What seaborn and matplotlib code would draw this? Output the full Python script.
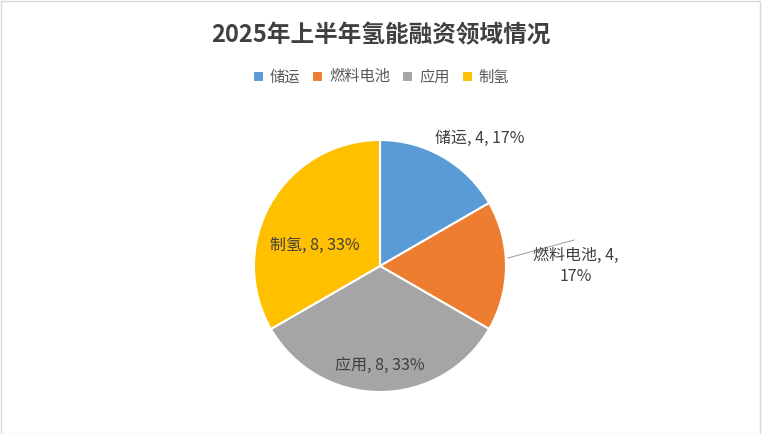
import matplotlib.pyplot as plt
import seaborn as sns
from matplotlib.patches import Rectangle

sns.set_theme(style="white")
plt.rcParams['font.family'] = 'Noto Sans CJK SC'

# data
categories = ['储运', '燃料电池', '应用', '制氢']
values = [4, 4, 8, 8]
colors = ['#5b9bd5', '#ed7d31', '#a5a5a5', '#ffc000']

W, H = 762, 434
fig = plt.figure(figsize=(W / 100, H / 100), dpi=100)
fig.patches.append(Rectangle((0.001, 0.001), 0.997, 0.997, transform=fig.transFigure,
                             fill=False, edgecolor='#d9d9d9', lw=1))

cx, cy, r = 380, 266, 126
ax = fig.add_axes([(cx - r) / W, (H - cy - r) / H, 2 * r / W, 2 * r / H])
wedges, _ = ax.pie(values, colors=colors, startangle=90, counterclock=False,
                   wedgeprops=dict(edgecolor='white', linewidth=1.5))
ax.set_aspect('equal')
ax.set_xlim(-1, 1)
ax.set_ylim(-1, 1)

total = sum(values)
labels = [f'{c}, {v}, {round(v / total * 100)}%' for c, v in zip(categories, values)]
fs = 11.5
# label positions in pixel coords
fig.text(480 / W, 1 - 138 / H, labels[0], ha='center', va='center', fontsize=fs, color='#404040')
fig.text(576 / W, 1 - 266 / H, '燃料电池, 4,\n17%', ha='center', va='center', fontsize=fs,
         color='#404040', linespacing=1.35)
fig.add_artist(plt.Line2D([508 / W, 574 / W], [1 - 258 / H, 1 - 240 / H], color='#a6a6a6', lw=0.8))
fig.text(380 / W, 1 - 365 / H, labels[2], ha='center', va='center', fontsize=fs, color='#404040')
fig.text(315 / W, 1 - 245 / H, labels[3], ha='center', va='center', fontsize=fs, color='#404040')

fig.text(0.5, 1 - 35 / H, '2025年上半年氢能融资领域情况', ha='center', va='center',
         fontsize=17, fontweight='bold', color='#404040')
fig.legend(wedges, categories, loc='center', bbox_to_anchor=(0.5, 1 - 77 / H), ncol=4,
           frameon=False, fontsize=11, handlelength=0.7, handleheight=0.7,
           columnspacing=0.8, handletextpad=0.4, labelcolor='#595959')

fig.savefig('out.png', dpi=100)
